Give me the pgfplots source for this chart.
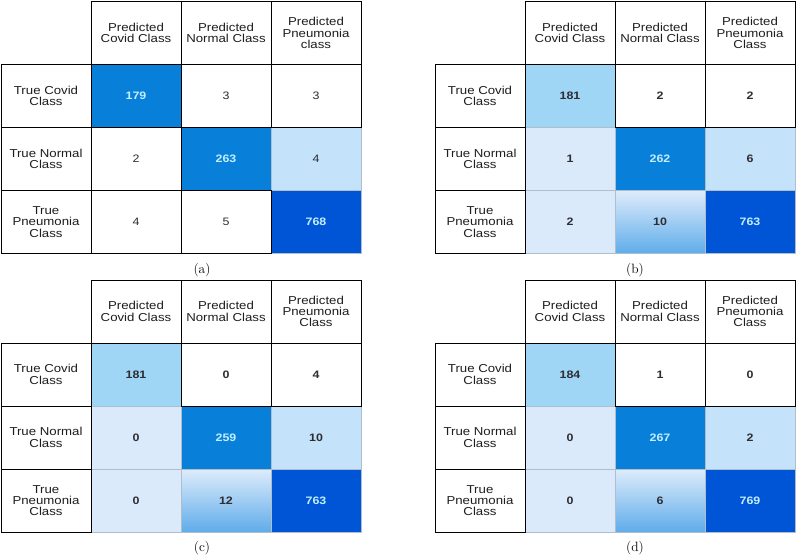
\documentclass[border=0pt]{standalone}
\usepackage{fontspec}
\usepackage{pgfplots}
\usepackage{pgfplotstable}
\pgfplotsset{compat=1.18}
\newfontfamily\cellfont[FakeStretch=1.15]{Liberation Sans}
\definecolor{cmid}{RGB}{8,128,218}
\definecolor{cdark}{RGB}{0,84,214}
\definecolor{clight}{RGB}{196,226,250}
\definecolor{cvlight}{RGB}{219,234,251}
\definecolor{ccyan}{RGB}{160,214,245}
\definecolor{gtop}{RGB}{222,236,251}
\definecolor{gbot}{RGB}{95,172,234}
\definecolor{numdark}{RGB}{45,45,50}
\definecolor{numlight}{RGB}{195,240,255}
\definecolor{lblclr}{RGB}{30,30,30}
\definecolor{softline}{RGB}{175,190,205}

\newcommand\poly[3]{%
  \edef\tmp{\noexpand\addplot[#3] coordinates {(#1,#2) (\the\numexpr#1+1\relax,#2) (\the\numexpr#1+1\relax,\the\numexpr#2+1\relax) (#1,\the\numexpr#2+1\relax)} -- cycle;}\tmp}
\newcommand\ccell[3]{\poly{#1}{#2}{fill=#3, draw=softline, line width=0.5pt}}
\newcommand\gcell[2]{\poly{#1}{#2}{top color=gtop, bottom color=gbot, draw=softline, line width=0.5pt}}
\newcommand\wcell[2]{\poly{#1}{#2}{fill=white, draw=black, line width=0.8pt}}
\newcommand\lblfont{\cellfont\fontsize{11.5}{11.3}\selectfont}
\newcommand\labels[1]{%
  \wcell{-1}{0}\wcell{-1}{1}\wcell{-1}{2}%
  \wcell{0}{-1}\wcell{1}{-1}\wcell{2}{-1}%
  \node[align=center, font=\lblfont, text=lblclr] at (axis cs:0.5,-0.5) {Predicted\\Covid Class};
  \node[align=center, font=\lblfont, text=lblclr] at (axis cs:1.5,-0.5) {Predicted\\Normal Class};
  \node[align=center, font=\lblfont, text=lblclr] at (axis cs:2.5,-0.5) {Predicted\\Pneumonia\\#1};
  \node[align=center, font=\lblfont, text=lblclr] at (axis cs:-0.5,0.5) {True Covid\\Class};
  \node[align=center, font=\lblfont, text=lblclr] at (axis cs:-0.5,1.5) {True Normal\\Class};
  \node[align=center, font=\lblfont, text=lblclr] at (axis cs:-0.5,2.5) {True\\Pneumonia\\Class};
}

% off-diagonal / dark-text values
\pgfplotstableread{
x y v
1.5 0.5 3
2.5 0.5 3
0.5 1.5 2
2.5 1.5 4
0.5 2.5 4
1.5 2.5 5
}\tabA
% light-text values
\pgfplotstableread{
x y v
0.5 0.5 179
1.5 1.5 263
2.5 2.5 768
}\tabAl
\pgfplotstableread{
x y v
0.5 0.5 181
1.5 0.5 2
2.5 0.5 2
0.5 1.5 1
2.5 1.5 6
0.5 2.5 2
1.5 2.5 10
}\tabB
\pgfplotstableread{
x y v
1.5 1.5 262
2.5 2.5 763
}\tabBl
\pgfplotstableread{
x y v
0.5 0.5 181
1.5 0.5 0
2.5 0.5 4
0.5 1.5 0
2.5 1.5 10
0.5 2.5 0
1.5 2.5 12
}\tabC
\pgfplotstableread{
x y v
1.5 1.5 259
2.5 2.5 763
}\tabCl
\pgfplotstableread{
x y v
0.5 0.5 184
1.5 0.5 1
2.5 0.5 0
0.5 1.5 0
2.5 1.5 2
0.5 2.5 0
1.5 2.5 6
}\tabD
\pgfplotstableread{
x y v
1.5 1.5 267
2.5 2.5 769
}\tabDl

\pgfplotsset{
  cm/.style={anchor=north west, width=360pt, height=252pt, scale only axis,
    xmin=-1, xmax=3, ymin=-1, ymax=3, y dir=reverse, hide axis, clip=false},
  vals/.style 2 args={only marks, mark=none, nodes near coords, point meta=explicit symbolic,
    every node near coord/.append style={anchor=center, text=#1, font=#2}},
}
\newcommand\nfont{\cellfont\fontsize{10.8}{12}\selectfont}
\newcommand\capfont{\fontsize{13.5}{15}\selectfont}

\begin{document}
\begin{tikzpicture}
\useasboundingbox (0,0) rectangle (797pt,-556pt);
% (a)
\begin{axis}[cm, at={(1pt,-1.5pt)}]
\ccell{0}{0}{cmid}\ccell{1}{1}{cmid}\ccell{2}{1}{clight}\ccell{2}{2}{cdark}
\wcell{1}{0}\wcell{2}{0}\wcell{0}{1}\wcell{0}{2}\wcell{1}{2}
\labels{class}
\addplot[vals={numdark}{\nfont}] table[x=x,y=y,meta=v] {\tabA};
\addplot[vals={numlight}{\nfont\bfseries}] table[x=x,y=y,meta=v] {\tabAl};
\end{axis}
% (b)
\begin{axis}[cm, at={(435pt,-1.5pt)}]
\ccell{0}{0}{ccyan}\ccell{0}{1}{cvlight}\ccell{1}{1}{cmid}\ccell{2}{1}{clight}
\ccell{0}{2}{cvlight}\gcell{1}{2}\ccell{2}{2}{cdark}
\wcell{1}{0}\wcell{2}{0}
\labels{Class}
\addplot[vals={numdark}{\nfont\bfseries}] table[x=x,y=y,meta=v] {\tabB};
\addplot[vals={numlight}{\nfont\bfseries}] table[x=x,y=y,meta=v] {\tabBl};
\end{axis}
% (c)
\begin{axis}[cm, at={(1pt,-280pt)}]
\ccell{0}{0}{ccyan}\ccell{0}{1}{cvlight}\ccell{1}{1}{cmid}\ccell{2}{1}{clight}
\ccell{0}{2}{cvlight}\gcell{1}{2}\ccell{2}{2}{cdark}
\wcell{1}{0}\wcell{2}{0}
\labels{Class}
\addplot[vals={numdark}{\nfont\bfseries}] table[x=x,y=y,meta=v] {\tabC};
\addplot[vals={numlight}{\nfont\bfseries}] table[x=x,y=y,meta=v] {\tabCl};
\end{axis}
% (d)
\begin{axis}[cm, at={(435pt,-280pt)}]
\ccell{0}{0}{ccyan}\ccell{0}{1}{cvlight}\ccell{1}{1}{cmid}\ccell{2}{1}{clight}
\ccell{0}{2}{cvlight}\gcell{1}{2}\ccell{2}{2}{cdark}
\wcell{1}{0}\wcell{2}{0}
\labels{Class}
\addplot[vals={numdark}{\nfont\bfseries}] table[x=x,y=y,meta=v] {\tabD};
\addplot[vals={numlight}{\nfont\bfseries}] table[x=x,y=y,meta=v] {\tabDl};
\end{axis}
\node[font=\capfont] at (202pt,-270pt) {(a)};
\node[font=\capfont] at (635pt,-270pt) {(b)};
\node[font=\capfont] at (202pt,-548pt) {(c)};
\node[font=\capfont] at (635pt,-548pt) {(d)};
\end{tikzpicture}
\end{document}
